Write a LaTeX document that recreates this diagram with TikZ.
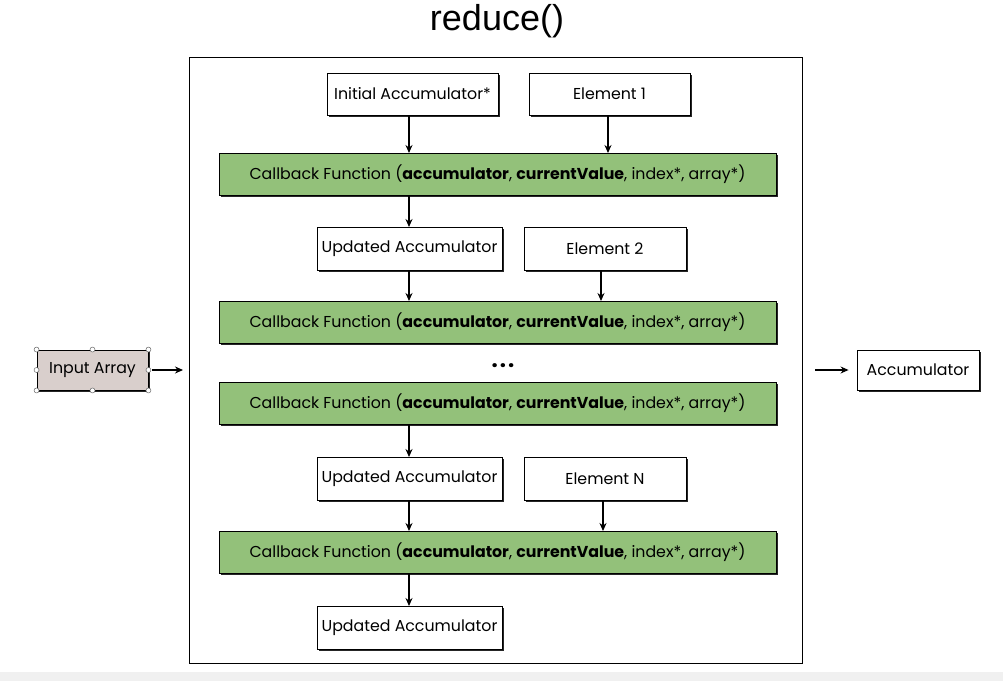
\documentclass[tikz,border=0pt]{standalone}
\usepackage{fontspec}
\setmainfont{Poppins}
\newfontfamily\titlefont{Liberation Sans}
\usetikzlibrary{shadows,arrows.meta}
\definecolor{cbgreen}{RGB}{147,193,122}
\definecolor{inputfill}{RGB}{217,207,204}
\definecolor{bandgrey}{RGB}{240,240,240}
\tikzset{
  box/.style={draw=black, line width=0.9pt, fill=white, inner sep=0pt,
    font=\fontsize{15.8}{18}\selectfont,
    drop shadow={shadow xshift=1.6pt, shadow yshift=-1.6pt, opacity=0.85, fill=black}},
  cbbox/.style={box, fill=cbgreen, minimum width=557pt, minimum height=42pt},
  accbox/.style={box, minimum width=185pt, minimum height=43pt},
  elbox/.style={box, minimum width=162pt, minimum height=43pt},
  arr/.style={-{Stealth[length=8pt,width=7pt]}, line width=1.3pt},
  handle/.style={circle, draw=black!60, fill=white, inner sep=0pt, minimum size=5pt, line width=0.5pt}
}
\newcommand{\cbtext}{Callback Function (\textbf{accumulator}, \textbf{currentValue}, index*, array*)}
\begin{document}
\begin{tikzpicture}[x=1pt,y=-1pt]
\useasboundingbox (0,0) rectangle (1003,681);
\fill[white] (0,0) rectangle (1003,681);
\fill[bandgrey] (0,672) rectangle (1003,681);
\node[inner sep=0pt] (title) at (497,21) {\titlefont\fontsize{36}{40}\selectfont reduce()};
\node[draw=black, line width=1pt, minimum width=613pt, minimum height=606pt, inner sep=0pt] (frame) at (495.5,360) {};
% row 1
\node[box, minimum width=171pt, minimum height=42pt] (init) at (412.5,94) {Initial Accumulator*};
\node[elbox, minimum width=161pt, minimum height=42pt] (el1) at (609.5,94) {Element 1};
\node[cbbox] (cb1) at (497.5,174) {\cbtext};
% row 2
\node[accbox] (ua1) at (409.5,248.5) {Updated Accumulator};
\node[elbox] (el2) at (605,248.5) {Element 2};
\node[cbbox] (cb2) at (497.5,322.5) {\cbtext};
\node (dots) at (503,366) {\fontsize{22}{22}\selectfont\textbf{.\kern2pt.\kern2pt.}};
\node[cbbox] (cb3) at (497.5,403.5) {\cbtext};
% row 3
\node[accbox] (ua2) at (409.5,478.5) {Updated Accumulator};
\node[elbox] (eln) at (605,478.5) {Element N};
\node[cbbox] (cb4) at (497.5,552.5) {\cbtext};
\node[accbox] (ua3) at (409.5,627.5) {Updated Accumulator};
% sides
\node[box, fill=inputfill, minimum width=111pt, minimum height=40pt] (input) at (92.5,370) {Input Array};
\foreach \a in {north west,north,north east,east,south east,south,south west,west}
  \node[handle] at (input.\a) {};
\node[box, minimum width=122pt, minimum height=40pt] (acc) at (918,370) {Accumulator};
\coordinate (inend) at (183,370);
\coordinate (outstart) at (815,370);
% arrows
\draw[arr] (409,115) -- (409,153);
\draw[arr] (608,115) -- (608,153);
\draw[arr] (409,195) -- (409,227);
\draw[arr] (409,270) -- (409,301);
\draw[arr] (601,270) -- (601,301);
\draw[arr] (409,425) -- (409,457);
\draw[arr] (409,500) -- (409,531);
\draw[arr] (603,500) -- (603,531);
\draw[arr] (409,574) -- (409,606);
\draw[arr] ([xshift=4pt]input.east) -- (inend);
\draw[arr] (outstart) -- ([xshift=-8pt]acc.west);
\end{tikzpicture}
\end{document}
